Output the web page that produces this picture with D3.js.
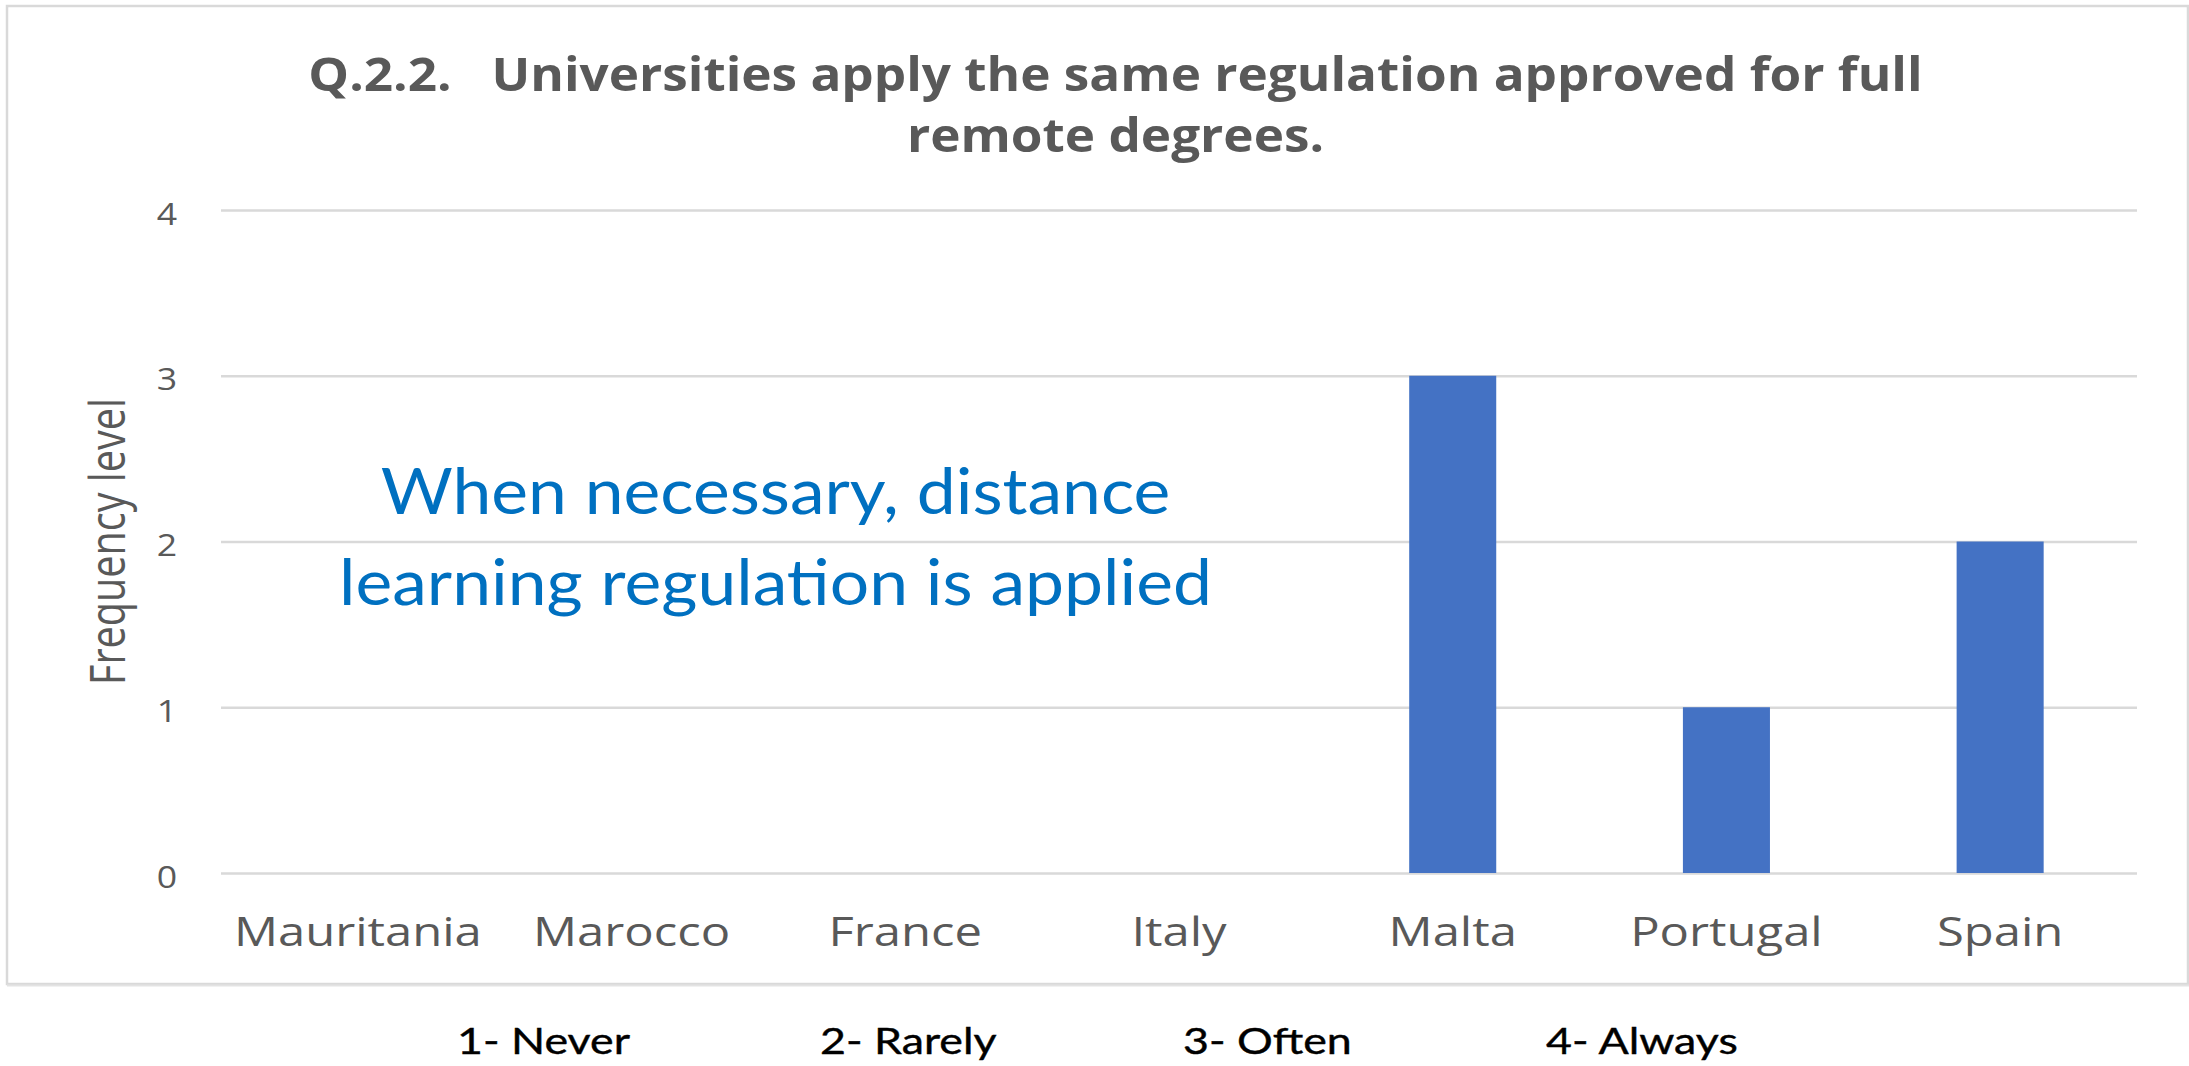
<!DOCTYPE html>
<html>
<head>
<meta charset="utf-8">
<script src="https://cdn.jsdelivr.net/npm/d3@7"></script>
<style>
  html, body { margin: 0; padding: 0; background: #ffffff; }
  svg { display: block; }
  text { white-space: pre; }
</style>
</head>
<body>
<script>
// Survey answers per country (frequency level 1–4, 0 = no answer)
const categories = ["Mauritania", "Marocco", "France", "Italy", "Malta", "Portugal", "Spain"];
const values = [0, 0, 0, 0, 3, 1, 2];
const yTicks = [0, 1, 2, 3, 4];
const titleLines = ["Q.2.2.   Universities apply the same regulation approved for full", "remote degrees."];
const noteLines = ["When necessary, distance", "learning regulation is applied"];
const scaleLegend = ["1- Never", "2- Rarely", "3- Often", "4- Always"];
const yTitle = "Frequency level";

const W = 2189, H = 1066;
const plot = { left: 221, right: 2137, top: 210, bottom: 873 };
const grey = "#595959";

const svg = d3.select("body").append("svg")
  .attr("width", W).attr("height", H)
  .attr("xml:space", "preserve");

svg.append("rect").attr("width", W).attr("height", H).attr("fill", "#ffffff");

// chart frame
svg.append("rect")
  .attr("x", 7).attr("y", 6)
  .attr("width", 2181).attr("height", 978)
  .attr("fill", "#ffffff")
  .attr("stroke", "#d9d9d9").attr("stroke-width", 2.5);
svg.append("line")
  .attr("x1", 7).attr("x2", W).attr("y1", 985.5).attr("y2", 985.5)
  .attr("stroke", "#e3e3e3").attr("stroke-width", 2);

// horizontally stretch a text so its length reaches a target width
function stretch(sel, target) {
  const w = sel.node().getComputedTextLength();
  return target / w;
}

const x = d3.scaleBand()
  .domain(categories)
  .range([plot.left, plot.right])
  .paddingInner(0.682)
  .paddingOuter(0.341);

const y = d3.scaleLinear()
  .domain([0, 4])
  .range([plot.bottom, plot.top]);

// y axis with gridlines
const yAxis = svg.append("g")
  .attr("transform", `translate(${plot.left},0)`)
  .call(d3.axisLeft(y).tickValues(yTicks).tickFormat(d3.format("d"))
    .tickSize(-(plot.right - plot.left)).tickPadding(0));
yAxis.select(".domain").remove();
yAxis.selectAll(".tick line").attr("stroke", "#d9d9d9").attr("stroke-width", 2.5);
yAxis.selectAll(".tick text")
  .attr("fill", grey)
  .attr("font-family", "'Open Sans', sans-serif")
  .attr("font-size", 31)
  .attr("text-anchor", "middle")
  .attr("x", 0).attr("dy", null).attr("y", 0)
  .attr("dominant-baseline", "central")
  .attr("transform", "translate(-54,2) scale(1.15,1)");

// bars
svg.append("g").selectAll("rect")
  .data(categories.map((c, i) => ({ c, v: values[i] })))
  .join("rect")
  .attr("x", d => x(d.c))
  .attr("width", x.bandwidth())
  .attr("y", d => y(d.v))
  .attr("height", d => y(0) - y(d.v))
  .attr("fill", "#4472C4");

// x axis category labels
const xAxis = svg.append("g")
  .attr("transform", `translate(0,${plot.bottom})`)
  .call(d3.axisBottom(x).tickSize(0).tickPadding(0));
xAxis.select(".domain").remove();
const xLabels = xAxis.selectAll(".tick text")
  .attr("fill", grey)
  .attr("font-family", "'Open Sans', sans-serif")
  .attr("font-size", 40)
  .attr("text-anchor", "middle")
  .attr("y", 0).attr("dy", null);
const kx = stretch(xAxis.select(".tick text"), 248);
xLabels.attr("transform", `translate(0,73) scale(${kx},1)`);

// y axis title
const yt = svg.append("text")
  .text(yTitle)
  .attr("fill", grey)
  .attr("font-family", "'Open Sans', sans-serif")
  .attr("font-size", 50)
  .attr("text-anchor", "middle");
const ky = stretch(yt, 287);
yt.attr("transform", `translate(125,541.5) rotate(-90) scale(${ky},1)`);

// title
const titleY = [91, 152];
const t1 = svg.append("text").text(titleLines[0])
  .attr("font-family", "'Open Sans', sans-serif").attr("font-weight", 700)
  .attr("font-size", 46).attr("fill", grey).attr("text-anchor", "middle");
const kt = stretch(t1, 1615);
t1.attr("transform", `translate(1115.5,${titleY[0]}) scale(${kt},1)`);
svg.append("text").text(titleLines[1])
  .attr("font-family", "'Open Sans', sans-serif").attr("font-weight", 700)
  .attr("font-size", 46).attr("fill", grey).attr("text-anchor", "middle")
  .attr("transform", `translate(1115.5,${titleY[1]}) scale(${kt},1)`);

// annotation inside the plot
const noteY = [514, 605];
const notes = svg.append("g").selectAll("text")
  .data(noteLines)
  .join("text")
  .text(d => d)
  .attr("font-family", "Lato, sans-serif")
  .attr("font-size", 64)
  .attr("fill", "#0070C0")
  .attr("text-anchor", "middle");
const kn = stretch(notes.filter((d, i) => i === 1), 873);
notes.attr("transform", (d, i) => `translate(775.5,${noteY[i]}) scale(${kn},1)`);

// frequency scale key below the frame
const legend = svg.append("g").selectAll("text")
  .data(scaleLegend)
  .join("text")
  .text(d => d)
  .attr("font-family", "Lato, sans-serif")
  .attr("font-size", 36)
  .attr("fill", "#000000")
  .attr("stroke", "#000000").attr("stroke-width", 0.4)
  .attr("text-anchor", "start");
const kl = stretch(legend.filter((d, i) => i === 0), 173);
legend.attr("transform", (d, i) => `translate(${457 + i * 363},1054) scale(${kl},1)`);
</script>
</body>
</html>
